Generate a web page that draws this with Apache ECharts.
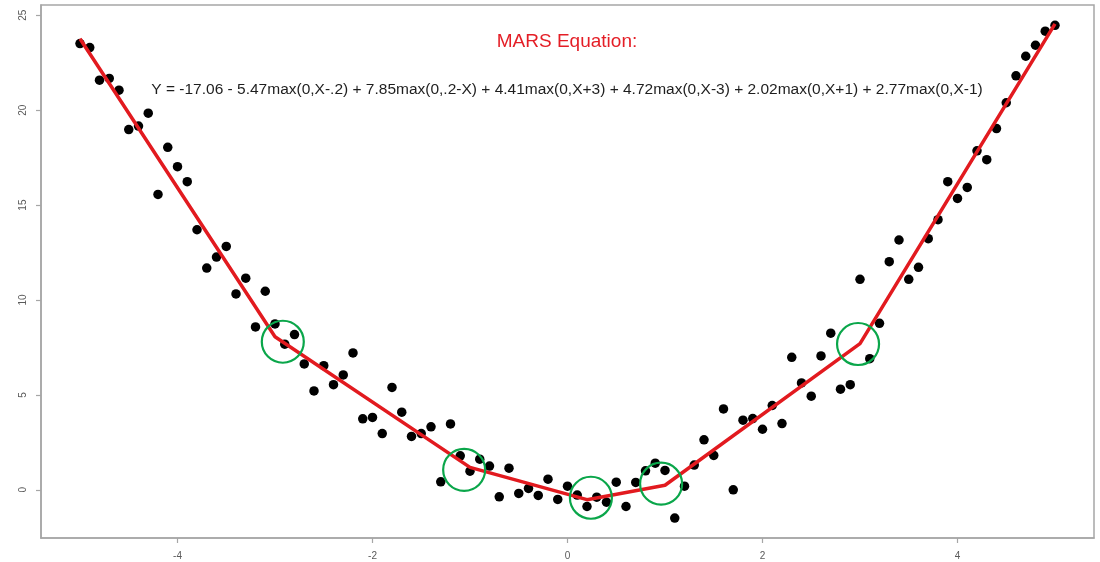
<!DOCTYPE html>
<html>
<head>
<meta charset="utf-8">
<script src="https://cdn.jsdelivr.net/npm/echarts@6/dist/echarts.min.js"></script>
<style>
html,body{margin:0;padding:0;background:#fff;}
#chart{width:1100px;height:562px;}
</style>
</head>
<body>
<div id="chart"></div>
<script>
// ---- data ----
const xValues = [-5.0,-4.9,-4.8,-4.7,-4.6,-4.5,-4.4,-4.3,-4.2,-4.1,-4.0,-3.9,-3.8,-3.7,-3.6,-3.5,-3.4,-3.3,-3.2,-3.1,-3.0,-2.9,-2.8,-2.7,-2.6,-2.5,-2.4,-2.3,-2.2,-2.1,-2.0,-1.9,-1.8,-1.7,-1.6,-1.5,-1.4,-1.3,-1.2,-1.1,-1.0,-0.9,-0.8,-0.7,-0.6,-0.5,-0.4,-0.3,-0.2,-0.1,0.0,0.1,0.2,0.3,0.4,0.5,0.6,0.7,0.8,0.9,1.0,1.1,1.2,1.3,1.4,1.5,1.6,1.7,1.8,1.9,2.0,2.1,2.2,2.3,2.4,2.5,2.6,2.7,2.8,2.9,3.0,3.1,3.2,3.3,3.4,3.5,3.6,3.7,3.8,3.9,4.0,4.1,4.2,4.3,4.4,4.5,4.6,4.7,4.8,4.9,5.0];
const yValues = [23.51,23.30,21.58,21.67,21.05,18.98,19.16,19.84,15.56,18.04,17.02,16.23,13.70,11.68,12.26,12.82,10.32,11.15,8.58,10.46,8.74,7.67,8.18,6.63,5.21,6.54,5.54,6.05,7.21,3.74,3.81,2.96,5.39,4.09,2.81,2.96,3.32,0.42,3.47,1.79,0.98,1.61,1.25,-0.37,1.14,-0.19,0.07,-0.30,0.56,-0.51,0.19,-0.28,-0.88,-0.39,-0.65,0.40,-0.88,0.39,1.00,1.40,1.02,-1.49,0.19,1.30,2.63,1.81,4.26,0.00,3.67,3.75,3.19,4.44,3.49,6.98,5.63,4.93,7.05,8.25,5.30,5.54,11.09,6.91,8.77,12.02,13.16,11.09,11.72,13.23,14.23,16.23,15.35,15.93,17.86,17.39,19.03,20.39,21.81,22.84,23.42,24.16,24.47];
const fitX = [-5, -3, -1, 0.2, 1, 3, 5];
const fitY = [23.76, 8.06, 1.18, -0.52, 0.24, 7.70, 24.55];
const knotX = [-2.92, -1.06, 0.24, 0.96, 2.98];
const knotY = [7.80, 1.05, -0.42, 0.32, 7.68];
const xTicks = [-4, -2, 0, 2, 4];
const yTicks = [0, 5, 10, 15, 20, 25];
const titleText = 'MARS Equation:';
const equationText = 'Y = -17.06 - 5.47max(0,X-.2) + 7.85max(0,.2-X) + 4.41max(0,X+3) + 4.72max(0,X-3) + 2.02max(0,X+1) + 2.77max(0,X-1)';

const points = xValues.map((x, i) => [x, yValues[i]]);
const fitLine = fitX.map((x, i) => [x, fitY[i]]);
const knots = knotX.map((x, i) => [x, knotY[i]]);

const chart = echarts.init(document.getElementById('chart'), null, {renderer: 'canvas'});
const axisGray = '#a6a6a6';
const labelGray = '#5a5a5a';
chart.setOption({
  animation: false,
  backgroundColor: '#ffffff',
  textStyle: {fontFamily: 'Liberation Sans, Arial, sans-serif'},
  title: [
    {text: titleText, left: 567, top: 32, textAlign: 'center', padding: 0,
     textStyle: {color: '#e41e26', fontSize: 19, fontWeight: 'normal', fontFamily: 'Liberation Sans'}},
    {text: equationText, left: 567, top: 82, textAlign: 'center', padding: 0,
     textStyle: {color: '#1e1e1e', fontSize: 15.5, fontWeight: 'normal', fontFamily: 'Liberation Sans'}}
  ],
  grid: {left: 41, right: 6, top: 5, bottom: 24, show: true, borderColor: axisGray, borderWidth: 1.5, backgroundColor: 'transparent'},
  xAxis: {
    type: 'value', min: -5.4, max: 5.4,
    splitLine: {show: false},
    axisLine: {show: true, onZero: false, lineStyle: {color: axisGray, width: 1.5}},
    axisTick: {show: true, length: 5, customValues: xTicks, lineStyle: {color: axisGray, width: 1.2}},
    axisLabel: {customValues: xTicks, margin: 13, color: labelGray, fontSize: 10, fontFamily: 'Liberation Sans'}
  },
  yAxis: {
    type: 'value', min: -2.54, max: 25.54,
    splitLine: {show: false},
    axisLine: {show: true, onZero: false, lineStyle: {color: axisGray, width: 1.5}},
    axisTick: {show: true, length: 5, customValues: yTicks, lineStyle: {color: axisGray, width: 1.2}},
    axisLabel: {customValues: yTicks, margin: 13, rotate: 90, color: labelGray, fontSize: 10, fontFamily: 'Liberation Sans'}
  },
  series: [
    {type: 'scatter', data: points, symbol: 'circle', symbolSize: 9.5,
     itemStyle: {color: '#000000', opacity: 1}, z: 2},
    {type: 'line', data: fitLine, showSymbol: false, symbol: 'none',
     lineStyle: {color: '#e21a1f', width: 3.5}, z: 3},
    {type: 'scatter', data: knots, symbol: 'circle', symbolSize: 42,
     itemStyle: {color: 'rgba(0,0,0,0)', borderColor: '#0aa64a', borderWidth: 2.2, opacity: 1}, z: 4}
  ]
});
</script>
</body>
</html>
